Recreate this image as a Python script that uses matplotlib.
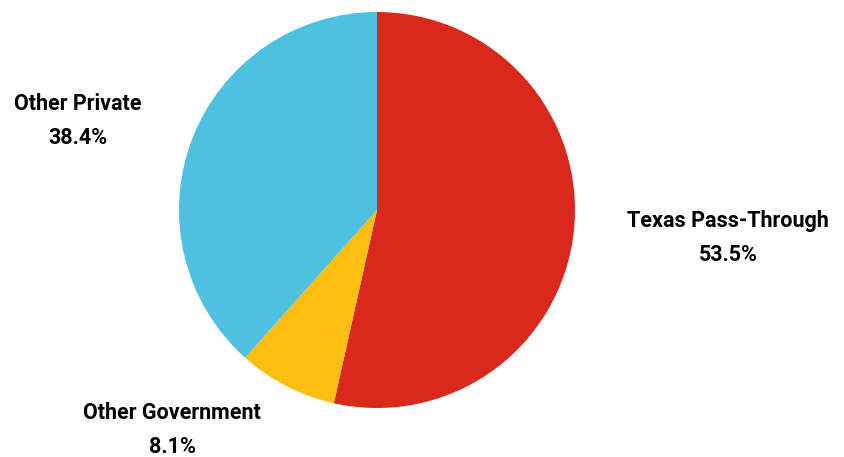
import matplotlib.pyplot as plt

# data
categories = ['Texas Pass-Through', 'Other Government', 'Other Private']
shares = [53.5, 8.1, 38.4]
colors = ['#DA291C', '#FDBE10', '#4FC1E0']

W, H = 845, 457
fig = plt.figure(figsize=(W / 100, H / 100), dpi=100)
ax = fig.add_axes([0, 0, 1, 1])

ax.pie(shares, colors=colors, startangle=90, counterclock=False,
       center=(377, H - 210), radius=198, frame=True,
       wedgeprops=dict(linewidth=0))
ax.set_xlim(0, W)
ax.set_ylim(0, H)
ax.set_aspect('equal')
ax.axis('off')

label_pos = [(728, 238), (172, 430), (78, 121)]
for name, val, (x, y) in zip(categories, shares, label_pos):
    ax.text(x, H - y, f'{name}\n{val:.1f}%', ha='center', va='center',
            fontsize=15.5, fontweight='bold', family='Roboto',
            linespacing=1.65, color='black')

fig.savefig('out.png', dpi=100)
